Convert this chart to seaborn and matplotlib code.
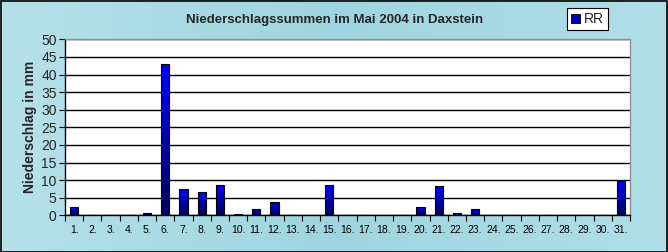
import numpy as np
import pandas as pd
import matplotlib
matplotlib.use("Agg")
import matplotlib.pyplot as plt
import seaborn as sns
from matplotlib.colors import LinearSegmentedColormap
from matplotlib.patches import Rectangle

days = [f"{i}." for i in range(1, 32)]
rr = [2.5, 0, 0, 0, 0.6, 43.0, 7.4, 6.6, 8.5, 0.3, 1.7, 3.8, 0, 0, 8.5,
      0, 0, 0, 0, 2.3, 8.2, 0.6, 1.7, 0, 0, 0, 0, 0, 0, 0, 9.8]
yticks = list(range(0, 55, 5))
title = "Niederschlagssummen im Mai 2004 in Daxstein"
ylabel = "Niederschlag in mm"
legend_label = "RR"

df = pd.DataFrame({"day": days, "rr": rr})

sns.set_theme(style="white")
plt.rcParams['font.family'] = ['Liberation Sans', 'DejaVu Sans']

fig = plt.figure(figsize=(6.68, 2.52), dpi=100)
bg = "#a9dbe5"
fig.patch.set_facecolor(bg)

# subtle background gradient
bgax = fig.add_axes([0, 0, 1, 1], zorder=-10)
grad = np.linspace(0, 1, 256).reshape(1, -1)
bgcmap = LinearSegmentedColormap.from_list("bg", ["#b5e1ea", "#9fd5e0", "#b0dfe8"])
bgax.imshow(grad, aspect="auto", cmap=bgcmap, extent=[0, 1, 0, 1])
bgax.set_axis_off()

ax = fig.add_axes([65/668, (252-215.3)/252, 565/668, 176/252])
ax.set_facecolor("white")

sns.barplot(data=df, x="day", y="rr", ax=ax, color="#0000ff", width=0.45,
            edgecolor="black", linewidth=0.8, saturation=1)

cmap = LinearSegmentedColormap.from_list("bar", ["#00005a", "#0000ff"])
g = np.linspace(0, 1, 64).reshape(-1, 1)
for p in ax.patches:
    x0, y0 = p.get_x(), p.get_y()
    w, h = p.get_width(), p.get_height()
    if h <= 0:
        continue
    im = ax.imshow(g, aspect="auto", cmap=cmap, origin="lower",
                   extent=[x0, x0 + w, y0, y0 + h], zorder=2.5)
    im.set_clip_path(p)
    p.set_facecolor("none")
    p.set_zorder(3)

ax.set_xlim(-0.5, 30.5)
ax.set_ylim(0, 50)
ax.set_yticks(yticks)
ax.yaxis.grid(True, color="black", linewidth=1.0)
ax.set_axisbelow(True)

ax.set_xticks(range(31))
ax.set_xticklabels(days, fontsize=7.5)
ax.set_xticks(np.arange(-0.5, 31, 1), minor=True)
ax.tick_params(axis="x", which="major", length=0, pad=7, colors="black")
ax.tick_params(axis="x", which="minor", length=4, width=0.8, color="black", direction="out", bottom=True)
ax.tick_params(axis="y", which="major", length=4, width=0.8, color="black", direction="out",
               left=True, labelsize=10, pad=2)

for s in ["left", "bottom"]:
    ax.spines[s].set_color("black")
    ax.spines[s].set_linewidth(1.0)
for s in ["top", "right"]:
    ax.spines[s].set_color("#909090")
    ax.spines[s].set_linewidth(1.0)

ax.set_xlabel("")
ax.set_ylabel(ylabel, fontsize=10, fontweight="bold", labelpad=3)

fig.text(335/668, 1 - 20/252, title, ha="center", va="center",
         fontsize=9.5, fontweight="bold")

# legend
leg = ax.legend(handles=[Rectangle((0, 0), 1, 1, facecolor="#0000b0", edgecolor="black", linewidth=0.6)],
                labels=[legend_label], loc="upper left",
                bbox_to_anchor=(567/668, 1 - 8/252), bbox_transform=fig.transFigure,
                frameon=True, fancybox=False, fontsize=10, handlelength=0.6, handleheight=0.6,
                handletextpad=0.3, borderpad=0.3, borderaxespad=0)
leg.get_frame().set_edgecolor("black")
leg.get_frame().set_linewidth(0.8)
leg.get_frame().set_facecolor("white")
leg.get_frame().set_alpha(1)

# outer border
fig.patches.append(Rectangle((0.5/668, 0.5/252), 1 - 1.5/668, 1 - 1.5/252, transform=fig.transFigure,
                             fill=False, edgecolor="black", linewidth=1.2))

fig.savefig("out.png", dpi=100, facecolor=fig.get_facecolor())
